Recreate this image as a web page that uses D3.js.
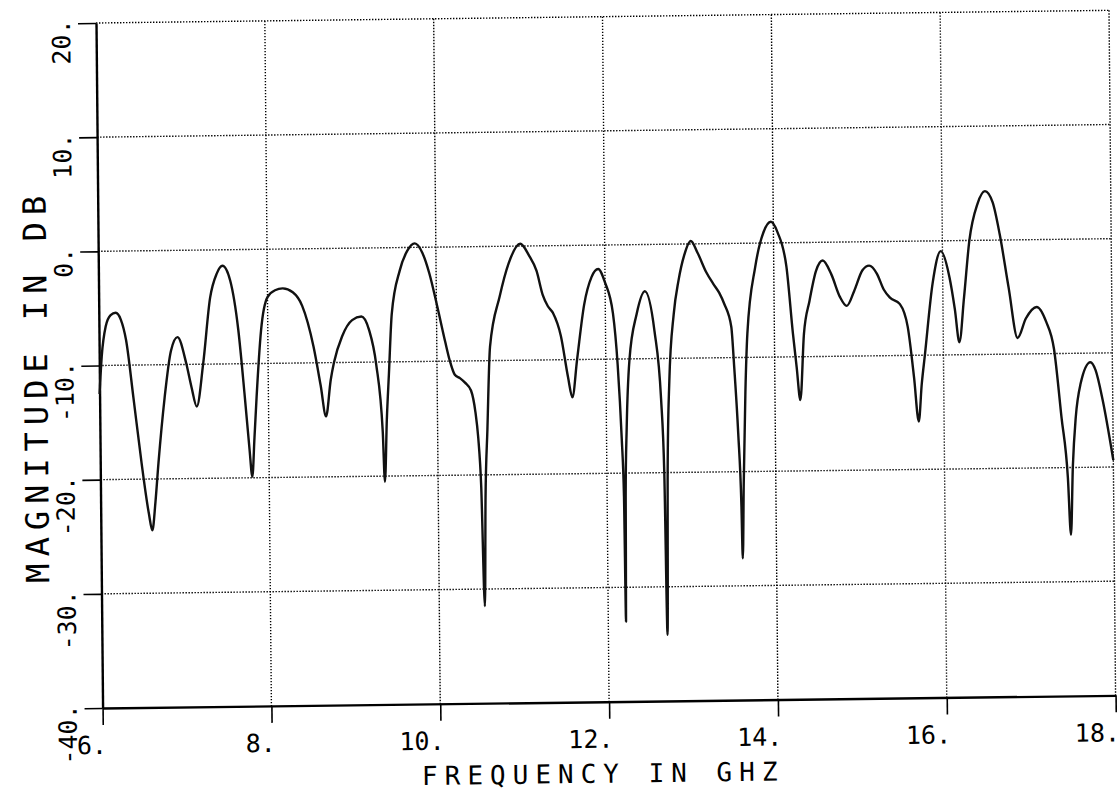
<!DOCTYPE html>
<html><head><meta charset="utf-8">
<script src="https://cdn.jsdelivr.net/npm/d3@7/dist/d3.min.js"></script>
<style>html,body{margin:0;padding:0;background:#fff;} svg{display:block}</style>
</head><body>
<svg id="chart" width="1120" height="796"></svg>
<script>
const freqGHz = [6.00,6.03,6.08,6.14,6.20,6.26,6.32,6.40,6.49,6.57,6.61,6.65,6.69,6.77,6.85,6.93,7.03,7.09,7.15,7.23,7.32,7.40,7.47,7.56,7.65,7.72,7.77,7.80,7.83,7.86,7.92,8.00,8.09,8.18,8.30,8.41,8.54,8.62,8.68,8.74,8.78,8.88,9.00,9.11,9.20,9.28,9.35,9.37,9.40,9.43,9.47,9.57,9.66,9.75,9.84,9.92,10.01,10.10,10.15,10.21,10.27,10.33,10.40,10.45,10.48,10.51,10.54,10.56,10.59,10.63,10.75,10.86,11.00,11.10,11.19,11.26,11.32,11.38,11.47,11.55,11.60,11.66,11.75,11.84,11.92,12.00,12.09,12.14,12.18,12.20,12.21,12.22,12.24,12.28,12.37,12.47,12.58,12.65,12.68,12.70,12.72,12.75,12.81,12.87,12.94,13.02,13.10,13.20,13.28,13.35,13.41,13.49,13.52,13.56,13.59,13.60,13.62,13.65,13.68,13.78,13.88,13.97,14.05,14.15,14.22,14.26,14.30,14.35,14.42,14.50,14.58,14.68,14.78,14.86,14.95,15.05,15.13,15.22,15.30,15.37,15.49,15.58,15.65,15.70,15.74,15.78,15.88,15.98,16.08,16.14,16.19,16.25,16.32,16.42,16.51,16.60,16.68,16.78,16.88,16.98,17.11,17.22,17.31,17.39,17.46,17.49,17.52,17.56,17.62,17.74,17.80,17.88,18.00];
const magDB = [-12.5,-9.2,-6.6,-5.6,-5.4,-6.0,-7.8,-12.8,-18.6,-23.0,-24.5,-22.0,-18.6,-12.9,-8.8,-7.6,-9.9,-12.0,-13.7,-10.0,-4.2,-2.1,-1.4,-2.7,-7.0,-12.9,-17.5,-19.9,-16.5,-12.9,-7.1,-4.2,-3.6,-3.45,-3.8,-5.0,-8.6,-12.0,-14.7,-11.5,-10.0,-7.7,-6.3,-6.0,-7.2,-10.2,-16.1,-20.5,-15.0,-11.0,-5.8,-2.0,-0.3,0.35,-0.5,-2.3,-5.2,-8.3,-9.9,-11.2,-11.5,-11.9,-12.6,-14.5,-16.7,-21.0,-31.5,-22.0,-16.0,-8.8,-4.4,-1.5,0.2,-0.8,-2.2,-4.3,-5.3,-5.9,-7.9,-11.5,-13.3,-10.0,-5.2,-2.8,-2.1,-3.3,-6.0,-10.5,-17.0,-22.0,-33.0,-22.0,-16.0,-10.1,-6.1,-4.1,-7.6,-13.5,-20.0,-34.2,-20.0,-12.0,-6.1,-3.2,-1.0,0.25,-0.8,-2.5,-3.5,-4.3,-5.3,-7.3,-10.8,-16.6,-23.0,-27.6,-21.0,-13.0,-7.9,-2.1,0.9,1.85,0.9,-2.1,-8.0,-10.9,-13.8,-8.0,-5.1,-2.5,-1.6,-2.8,-4.8,-5.6,-4.3,-2.5,-2.1,-2.8,-4.2,-4.9,-5.5,-7.5,-12.0,-15.8,-12.5,-10.0,-3.7,-0.9,-3.2,-6.0,-8.9,-5.0,0.0,3.2,4.3,3.3,0.5,-4.2,-8.6,-6.9,-5.9,-7.2,-9.6,-15.5,-20.9,-25.9,-19.9,-15.6,-12.7,-10.8,-11.5,-14.1,-19.4];
const xTicks = [6,8,10,12,14,16,18];
const xTickLabels = ["6.","8.","10.","12.","14.","16.","18."];
const yTicks = [-40,-30,-20,-10,0,10,20];
const yTickLabels = ["-40.","-30.","-20.","-10.","0.","10.","20."];
const xTitle = "FREQUENCY IN GHZ";
const yTitle = "MAGNITUDE IN DB";

const W = 1013, H = 685;
const FONT = "'DejaVu Sans Mono', 'Liberation Mono', monospace";
const svg = d3.select("#chart");
// slight skew/rotation of the scanned plot
const g = svg.append("g").attr("transform", "matrix(1,-0.0125,0.0096,1,96,23)");

const x = d3.scaleLinear().domain([6, 18]).range([0, W]);
const y = d3.scaleLinear().domain([-40, 20]).range([H, 0]);

// dotted grid
const grid = g.append("g").attr("stroke", "#000").attr("stroke-width", 1.4)
  .attr("stroke-dasharray", "1.4,1.6").attr("fill", "none");
grid.selectAll("line.vx").data(xTicks.slice(1)).join("line").attr("class", "vx")
  .attr("x1", d => x(d)).attr("x2", d => x(d)).attr("y1", 0).attr("y2", H);
grid.selectAll("line.hy").data(yTicks.slice(1)).join("line").attr("class", "hy")
  .attr("x1", 0).attr("x2", W).attr("y1", d => y(d)).attr("y2", d => y(d));

// axes (ticks only, labels drawn separately)
const xAxis = d3.axisBottom(x).tickValues(xTicks).tickSize(17).tickSizeOuter(0).tickFormat("");
const yAxis = d3.axisLeft(y).tickValues(yTicks).tickSize(18).tickSizeOuter(0).tickFormat("");
const gx = g.append("g").attr("transform", `translate(0,${H})`).call(xAxis);
const gy = g.append("g").call(yAxis);
[gx, gy].forEach(a => {
  a.select(".domain").attr("stroke", "#000").attr("stroke-width", 2.4);
  a.selectAll(".tick line").attr("stroke", "#000").attr("stroke-width", 1.6);
});

// tick labels
g.append("g").selectAll("text").data(xTicks).join("text")
  .attr("x", d => x(d) + 4).attr("y", 731)
  .attr("text-anchor", "end").attr("font-family", FONT).attr("font-size", 25)
  .attr("fill", "#000").text((d, i) => xTickLabels[i]);
g.append("g").selectAll("text").data(yTicks).join("text")
  .attr("transform", d => `translate(-26,${y(d)}) rotate(-90)`)
  .attr("x", 4).attr("y", 0)
  .attr("text-anchor", "end").attr("font-family", FONT).attr("font-size", 25)
  .attr("fill", "#000").text((d, i) => yTickLabels[i]);

// titles
g.append("text").attr("x", 500).attr("y", 766).attr("text-anchor", "middle")
  .attr("font-family", FONT).attr("font-size", 26).attr("letter-spacing", 7)
  .attr("fill", "#000").text(xTitle);
g.append("text").attr("transform", "translate(-52,362) rotate(-90)")
  .attr("text-anchor", "middle").attr("font-family", FONT).attr("font-size", 32)
  .attr("letter-spacing", 7).attr("fill", "#000").text(yTitle);

// curve
const data = d3.zip(freqGHz, magDB);
const line = d3.line().x(d => x(d[0])).y(d => y(d[1])).curve(d3.curveMonotoneX);
g.append("path").datum(data).attr("d", line).attr("fill", "none")
  .attr("stroke", "#111").attr("stroke-width", 2.4).attr("stroke-linejoin", "round");
</script>
</body></html>
